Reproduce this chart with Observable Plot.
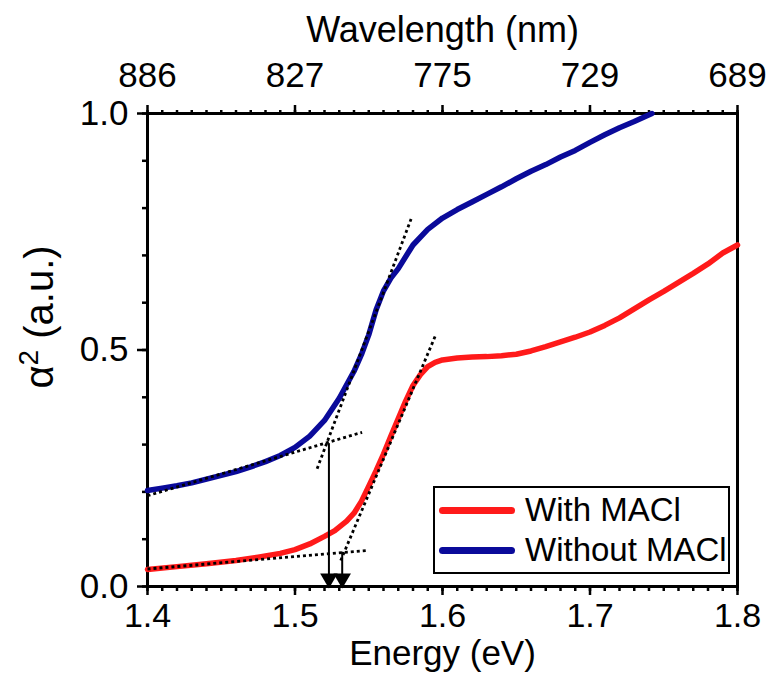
<!DOCTYPE html>
<html>
<head>
<meta charset="utf-8">
<script src="https://cdn.jsdelivr.net/npm/d3@7"></script>
<script src="https://cdn.jsdelivr.net/npm/@observablehq/plot@0.6"></script>
<style>
  body { margin: 0; background: white; }
  #wrap { position: relative; width: 770px; height: 675px; font-family: "Liberation Sans", Arial, sans-serif; }
  #legend { position: absolute; left: 433px; top: 486px; width: 293px; height: 84px; border: 2px solid black; background: white; }
  .row { position: absolute; left: 4px; height: 40px; display: flex; align-items: center; font-size: 33px; }
  .sw { width: 76px; height: 7px; border-radius: 4px; margin-right: 10px; }
</style>
</head>
<body>
<div id="wrap"></div>
<script>
// ---- data ----
const withoutE = [1.400,1.410,1.420,1.430,1.440,1.450,1.460,1.470,1.480,1.490,1.500,1.510,1.520,1.530,1.540,1.545,1.550,1.555,1.560,1.565,1.570,1.575,1.580,1.590,1.600,1.610,1.620,1.630,1.640,1.650,1.660,1.670,1.680,1.690,1.700,1.710,1.720,1.730,1.742];
const withoutA = [0.203,0.208,0.213,0.219,0.227,0.235,0.243,0.253,0.264,0.277,0.294,0.318,0.351,0.398,0.455,0.490,0.532,0.585,0.625,0.652,0.672,0.697,0.722,0.755,0.779,0.797,0.813,0.829,0.845,0.862,0.878,0.892,0.908,0.922,0.939,0.955,0.970,0.983,1.000];
const withE = [1.400,1.420,1.440,1.460,1.475,1.490,1.500,1.510,1.520,1.527,1.535,1.540,1.545,1.550,1.555,1.560,1.565,1.570,1.575,1.580,1.585,1.590,1.595,1.600,1.610,1.620,1.630,1.640,1.650,1.660,1.670,1.680,1.690,1.700,1.710,1.720,1.730,1.740,1.750,1.760,1.770,1.780,1.790,1.800];
const withA = [0.036,0.042,0.048,0.055,0.062,0.070,0.078,0.090,0.106,0.118,0.138,0.155,0.180,0.212,0.245,0.280,0.318,0.355,0.392,0.425,0.448,0.465,0.474,0.479,0.483,0.485,0.486,0.488,0.491,0.498,0.507,0.517,0.527,0.538,0.552,0.568,0.587,0.606,0.624,0.643,0.662,0.682,0.705,0.722];
// tangent (fit) lines
const tangentNames = ["withoutBase","withoutSlope","withBase","withSlope"];
const tangentX1 = [1.400, 1.515, 1.400, 1.531];
const tangentY1 = [0.192, 0.249, 0.037, 0.055];
const tangentX2 = [1.5455, 1.5787, 1.549, 1.5953];
const tangentY2 = [0.326, 0.777, 0.076, 0.531];
// band-gap arrows
const arrowE = [1.523, 1.532];
const arrowTop = [0.302, 0.0725];
// ticks and titles
const energyTicks = [1.4, 1.5, 1.6, 1.7, 1.8];
const energyLabels = ["1.4","1.5","1.6","1.7","1.8"];
const wavelengthLabels = ["886","827","775","729","689"];
const yTicks = [0, 0.5, 1.0];
const yLabels = ["0.0","0.5","1.0"];
const xTitle = "Energy (eV)";
const topTitle = "Wavelength (nm)";
const yTitleSymbol = "α", yTitleSup = "2", yTitleRest = " (a.u.)";
const seriesNames = ["With MACl", "Without MACl"];
const seriesColors = ["#ff1a1a", "#0a0a9a"];

const withoutData = withoutE.map((e,i)=>({e, a: withoutA[i]}));
const withData = withE.map((e,i)=>({e, a: withA[i]}));
const tangents = tangentNames.map((n,i)=>({n, x1:tangentX1[i], y1:tangentY1[i], x2:tangentX2[i], y2:tangentY2[i]}));
const arrows = arrowE.map((e,i)=>({e, top: arrowTop[i], bottom: 0}));
const minorX = d3.range(0, 41).map(i => 1.4 + i*0.01);
const minorY = d3.range(0, 11).map(i => i*0.1);
const FONT = "'Liberation Sans', Arial, sans-serif";

const plot = Plot.plot({
  width: 770, height: 675,
  marginLeft: 147, marginRight: 33, marginTop: 113, marginBottom: 89,
  x: {domain: [1.4, 1.8]},
  y: {domain: [0, 1]},
  style: {fontFamily: FONT, fontSize: "34px", color: "black", background: "white", overflow: "visible"},
  marks: [
    // minor ticks (no labels)
    Plot.axisX({anchor: "bottom", ticks: minorX, tickSize: 5, strokeWidth: 2.5, fill: "none", label: null}),
    Plot.axisX({anchor: "top", ticks: minorX, tickSize: 4, strokeWidth: 2.5, fill: "none", label: null}),
    Plot.axisY({anchor: "left", ticks: minorY, tickSize: 5, strokeWidth: 2.5, fill: "none", label: null}),
    // major ticks
    Plot.axisX({anchor: "bottom", ticks: energyTicks, tickSize: 9, strokeWidth: 2.5, tickPadding: 7,
      tickFormat: (d,i) => energyLabels[i], label: null, fontSize: 34}),
    Plot.axisX({anchor: "top", ticks: energyTicks, tickSize: 9, strokeWidth: 2.5, tickPadding: 18,
      tickFormat: (d,i) => wavelengthLabels[i], label: null, fontSize: 35}),
    Plot.axisY({anchor: "left", ticks: yTicks, tickSize: 10, strokeWidth: 2.5, tickPadding: 9,
      tickFormat: (d,i) => yLabels[i], label: null, fontSize: 35}),
    // titles
    Plot.text([xTitle], {frameAnchor: "bottom", lineAnchor: "middle", dy: 67, fontSize: 35, fill: "black"}),
    Plot.text([topTitle], {frameAnchor: "top", lineAnchor: "middle", dy: -83, fontSize: 36, fill: "black"}),
    Plot.text([yTitleSymbol + yTitleSup + yTitleRest], {frameAnchor: "left", textAnchor: "middle", lineAnchor: "middle", dx: -107, dy: -33, rotate: -90, fontSize: 40, fill: "black", className: "ytitle"}),
    Plot.frame({stroke: "black", strokeWidth: 3}),
    Plot.line(withoutData, {x: "e", y: "a", stroke: seriesColors[1], strokeWidth: 5.5}),
    Plot.line(withData, {x: "e", y: "a", stroke: seriesColors[0], strokeWidth: 5.5}),
    Plot.link(tangents, {x1: "x1", y1: "y1", x2: "x2", y2: "y2", stroke: "black", strokeWidth: 2.8, strokeDasharray: "3,3"}),
    Plot.ruleX(arrows, {x: "e", y1: "top", y2: "bottom", stroke: "black", strokeWidth: 2, insetBottom: 8}),
    Plot.dot(arrows, {x: "e", y: "bottom", symbol: "triangle", r: 6.5, rotate: 180, fill: "black", stroke: null, dy: -8})
  ]
});
// render the exponent as a raised digit (still real text)
d3.select(plot).selectAll("g.ytitle text").each(function() {
  const t = d3.select(this);
  t.text(null);
  t.append("tspan").text(yTitleSymbol);
  t.append("tspan").attr("font-size", "70%").attr("dy", "-0.55em").text(yTitleSup);
  t.append("tspan").attr("dy", "0.385em").text(yTitleRest);
});
const wrap = document.getElementById("wrap");
wrap.appendChild(plot);
const lg = document.createElement("div");
lg.id = "legend";
seriesNames.forEach((name, i) => {
  const row = document.createElement("div");
  row.className = "row";
  row.style.top = (i*40 + 2) + "px";
  const sw = document.createElement("div");
  sw.className = "sw";
  sw.style.background = seriesColors[i];
  const t = document.createElement("span");
  t.textContent = name;
  row.appendChild(sw); row.appendChild(t);
  lg.appendChild(row);
});
wrap.appendChild(lg);
</script>
</body>
</html>
